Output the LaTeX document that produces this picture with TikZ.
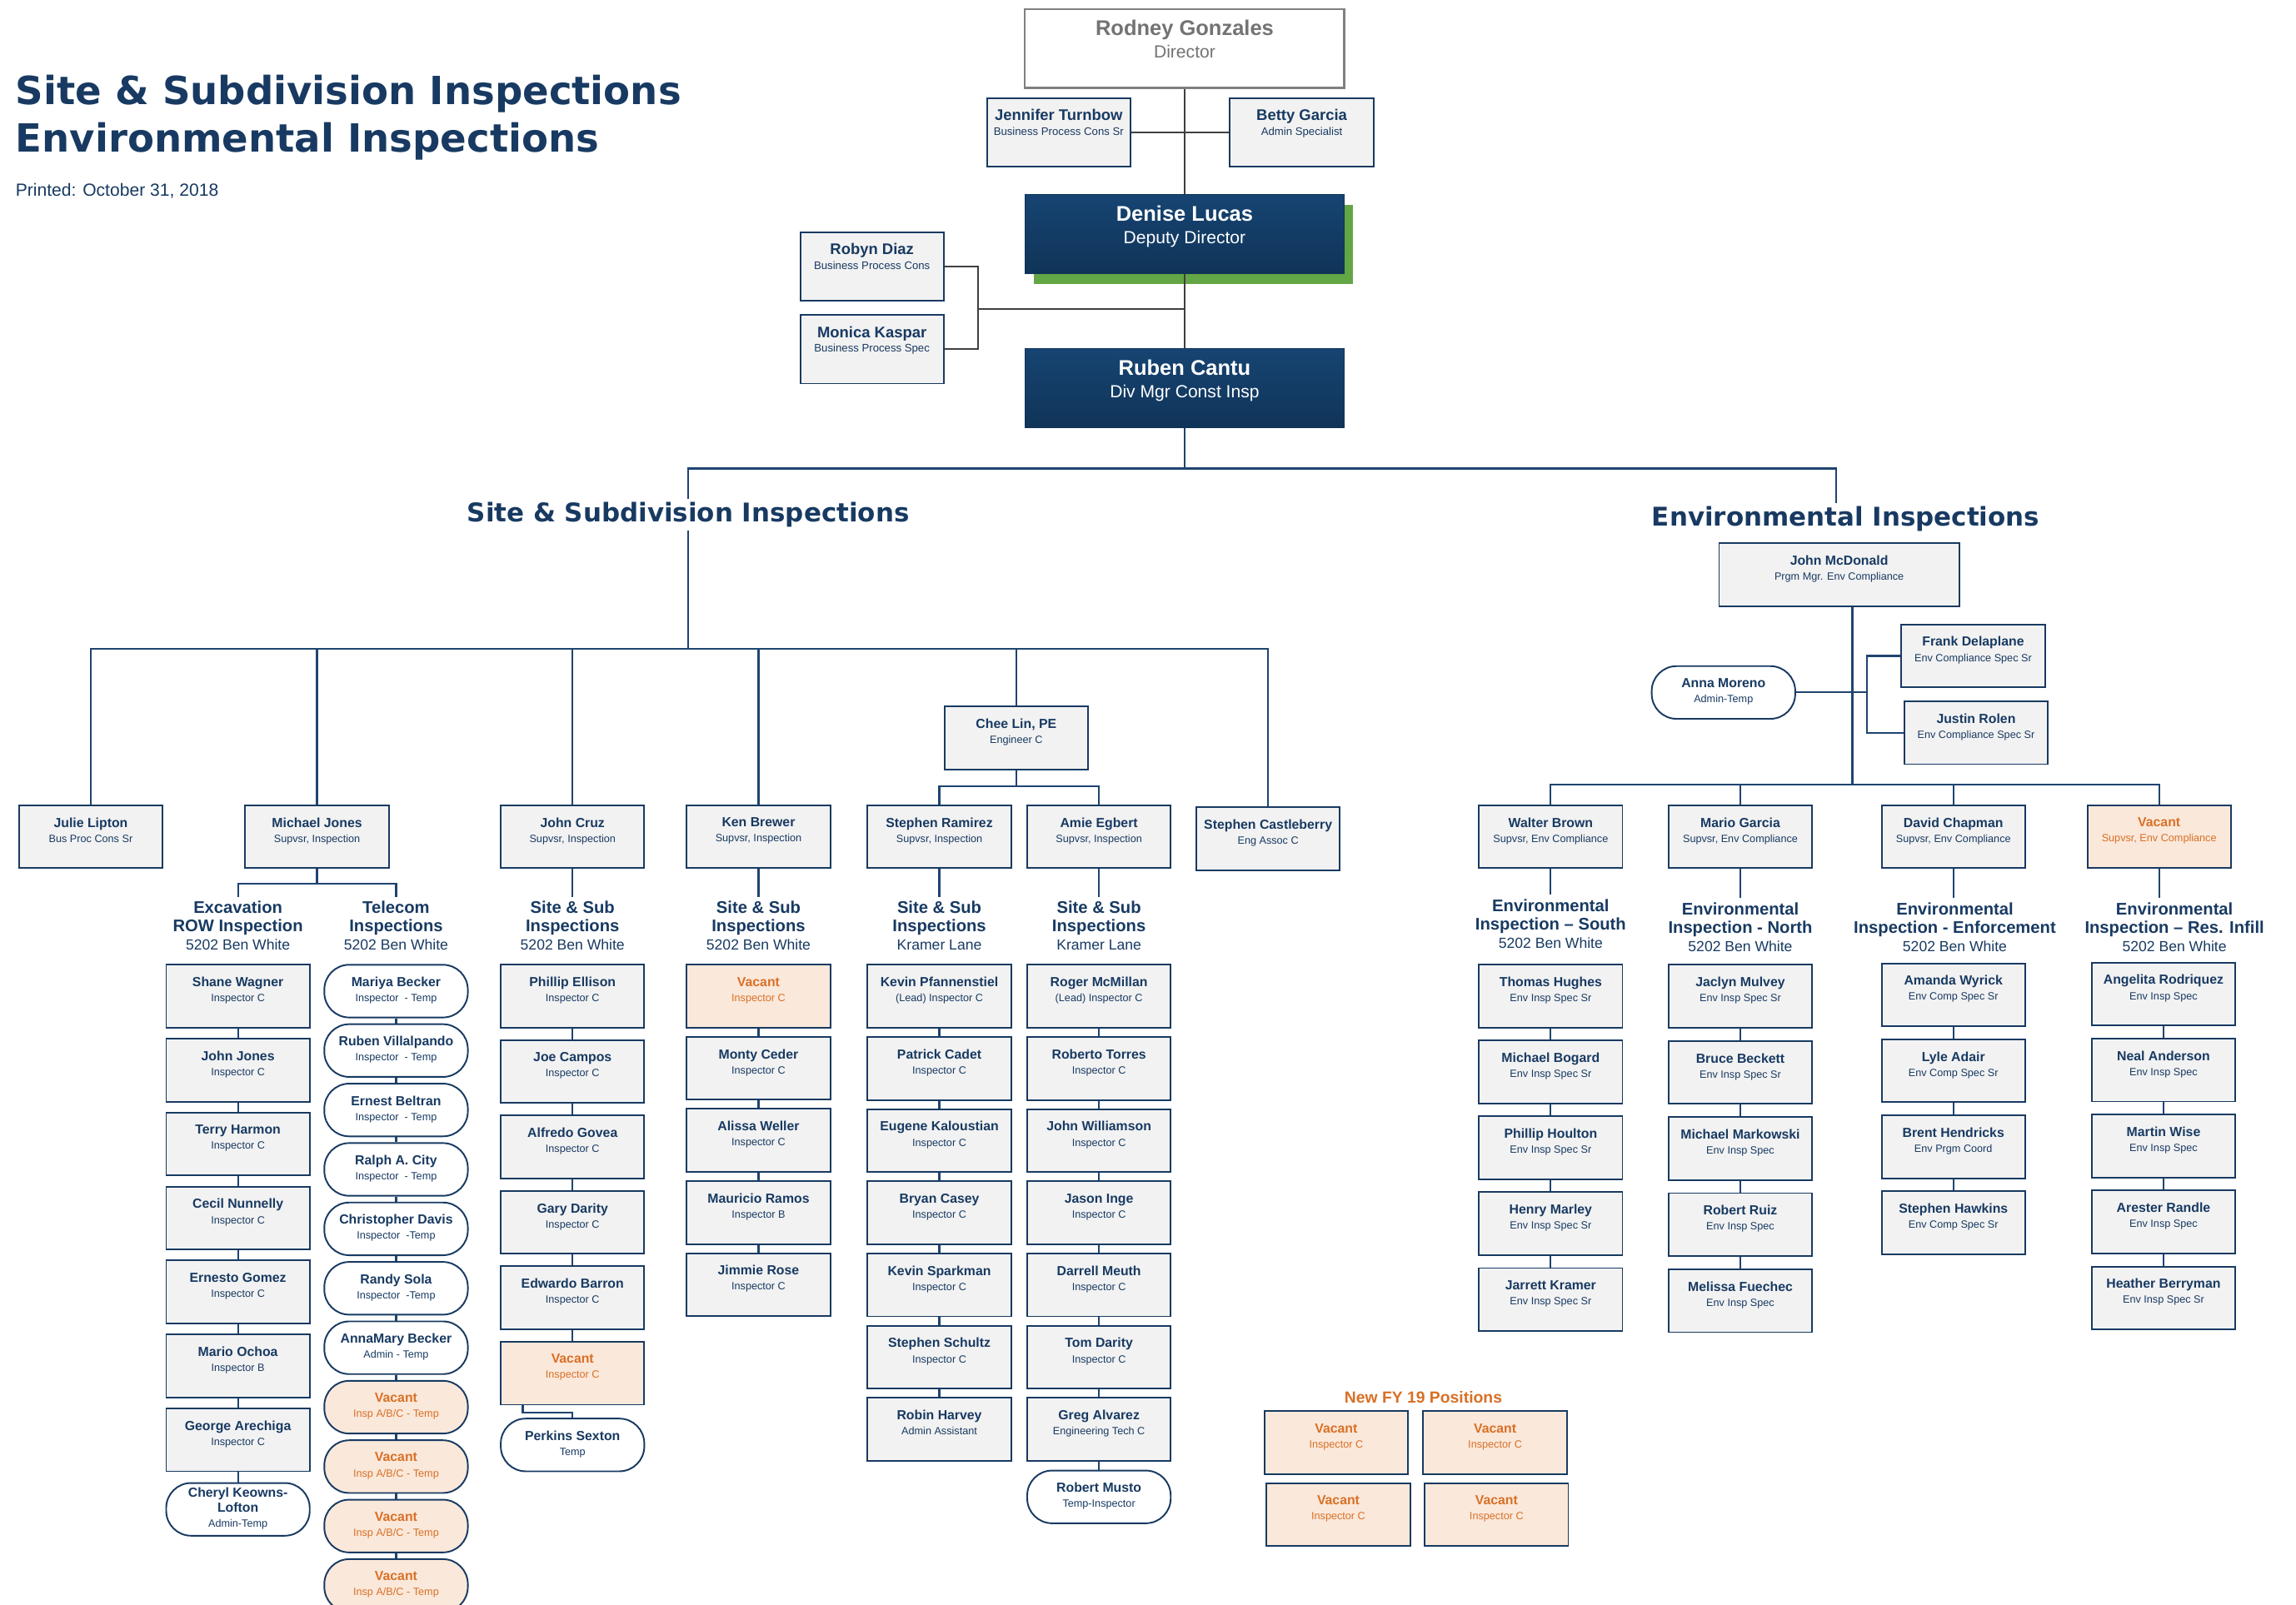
\documentclass[tikz,border=0pt]{standalone}
\usepackage{fontspec}
\setmainfont{Liberation Sans}
\newfontfamily\heavyfont{DejaVu Sans}
\usetikzlibrary{positioning}

\definecolor{navy}{RGB}{24,58,98}
\definecolor{linenavy}{RGB}{31,68,112}
\definecolor{boxgray}{RGB}{242,242,242}
\definecolor{vacfill}{RGB}{250,232,218}
\definecolor{vacorange}{RGB}{217,112,38}
\definecolor{dirgray}{RGB}{128,128,128}
\definecolor{depnavyA}{RGB}{22,68,114}
\definecolor{depnavyB}{RGB}{16,52,88}
\definecolor{shgreen}{RGB}{99,166,69}
\definecolor{topline}{RGB}{64,64,64}

% name / title fonts, one pair per box style
\newcommand{\nmpbox}{\fontsize{9}{10.3}\selectfont\bfseries}
\newcommand{\ttpbox}{\fontsize{7.2}{10.3}\selectfont}
\let\nmvacbox\nmpbox \let\ttvacbox\ttpbox
\let\nmtmpbox\nmpbox \let\tttmpbox\ttpbox
\let\nmtmpvac\nmpbox \let\tttmpvac\ttpbox
\let\nmwidebox\nmpbox \let\ttwidebox\ttpbox
\newcommand{\nmaidebox}{\fontsize{10.5}{10}\selectfont\bfseries}
\newcommand{\ttaidebox}{\fontsize{7.5}{10}\selectfont}
\newcommand{\nmdirbox}{\fontsize{14.5}{15.5}\selectfont\bfseries}
\newcommand{\ttdirbox}{\fontsize{12}{15.5}\selectfont}
\let\nmdepbox\nmdirbox \let\ttdepbox\ttdirbox
\newcommand{\addr}{\fontsize{10}{12.5}\selectfont\mdseries}

% box + text for one person
\newcommand{\staff}[5][pbox]{%
  \node[#1] (#2) at #3 {};
  \node[#1 txt] (#2-t) at (#2.north) {\csname nm#1\endcsname #4\\\csname tt#1\endcsname #5};
}

\tikzset{
  link/.style={draw=linenavy, line width=1.2pt},
  toplink/.style={draw=topline, line width=0.9pt},
  pbox/.style={draw=navy, line width=1.1pt, fill=boxgray, minimum width=98pt, minimum height=43pt, inner sep=0pt},
  pbox txt/.style={anchor=north, yshift=-8.8pt, align=center, inner sep=0pt, text=navy, font=\ttpbox},
  widebox/.style={pbox, minimum width=164pt},
  widebox txt/.style={pbox txt},
  vacbox/.style={pbox, fill=vacfill},
  vacbox txt/.style={pbox txt, text=vacorange},
  tmpbox/.style={pbox, fill=white, rounded corners=17pt, minimum height=36pt},
  tmpbox txt/.style={anchor=center, yshift=-18pt, align=center, inner sep=0pt, text=navy, font=\ttpbox},
  tmpvac/.style={tmpbox, fill=vacfill},
  tmpvac txt/.style={tmpbox txt, text=vacorange},
  aidebox/.style={pbox, minimum height=47pt},
  aidebox txt/.style={anchor=north, yshift=-8.2pt, align=center, inner sep=0pt, text=navy, font=\ttaidebox},
  dirbox/.style={draw=dirgray, line width=1.2pt, fill=white, minimum width=218pt, minimum height=54pt, inner sep=0pt},
  dirbox txt/.style={anchor=north, yshift=-7.8pt, align=center, inner sep=0pt, text=dirgray!90!black, font=\ttdirbox},
  depbox/.style={draw=depnavyB, line width=0.8pt, top color=depnavyA, bottom color=depnavyB, minimum width=218pt, minimum height=54pt, inner sep=0pt},
  depbox txt/.style={dirbox txt, text=white},
  colhd/.style={anchor=north, align=center, inner xsep=0pt, inner ysep=3pt, text=navy, font=\fontsize{11.5}{12.5}\selectfont\bfseries},
  sechd/.style={text=navy, inner sep=2pt, font=\heavyfont\bfseries\fontsize{17.6}{20}\selectfont},
  bigtitle/.style={anchor=base west, inner sep=0pt, text=navy, font=\heavyfont\bfseries\fontsize{26.5}{30}\selectfont},
}

\begin{document}
\begin{tikzpicture}[x=1pt, y=-1pt]
  \useasboundingbox (0,0) rectangle (1568,1096);
  \fill[white] (0,0) rectangle (1568,1096);

  % Titles
  \node[bigtitle] (title1) at (10.5,71.5) {Site \& Subdivision Inspections};
  \node[bigtitle] (title2) at (10.5,103.7) {Environmental Inspections};
  \node[anchor=base west, inner sep=0pt, text=navy, font=\fontsize{12}{14}\selectfont] (printed) at (10.5,134) {Printed: October 31, 2018};

  % Director's office
  \staff[dirbox]{rodney}{(809,33)}{Rodney Gonzales}{Director}
  \staff[aidebox]{jturnbow}{(723,90.5)}{Jennifer Turnbow}{Business Process Cons Sr}
  \staff[aidebox]{bgarcia}{(889,90.5)}{Betty Garcia}{Admin Specialist}
  \node[fill=shgreen, minimum width=218pt, minimum height=54pt, inner sep=0pt] (deniseshade) at (815,167) {};
  \staff[depbox]{dlucas}{(809,160)}{Denise Lucas}{Deputy Director}
  \staff[aidebox]{rdiaz}{(595.5,182)}{Robyn Diaz}{Business Process Cons}
  \staff[aidebox]{mkaspar}{(595.5,238.5)}{Monica Kaspar}{Business Process Spec}
  \staff[depbox]{rcantu}{(809,265)}{Ruben Cantu}{Div Mgr Const Insp}

  \draw[toplink] (rodney) -- (dlucas);
  \draw[toplink, line width=1.4pt] (jturnbow) -- (bgarcia);
  \draw[toplink] (dlucas) -- (rcantu);
  \coordinate (rdbr) at (668,211);
  \draw[toplink, line width=1.2pt] (rdiaz.east) -| (rdbr) |- (mkaspar.east);
  \draw[toplink, line width=1.2pt] (rdbr) -- (rdbr -| rcantu.north);

  % Section headings
  \node[sechd] (sitehd) at (470,351.5) {Site \& Subdivision Inspections};
  \node[sechd] (envhd) at (1260.5,354.5) {Environmental Inspections};
  \coordinate (topbus) at (809,320);
  \draw[link] (rcantu) -- (topbus);
  \draw[link] (topbus) -| (sitehd.north);
  \draw[link] (topbus) -| ([xshift=-6.5pt]envhd.north);

  % Site & Subdivision: supervisors
  \staff{jlipton}{(62,571.5)}{Julie Lipton}{Bus Proc Cons Sr}
  \staff{mjones}{(216.5,571.5)}{Michael Jones}{Supvsr, Inspection}
  \staff{jcruz}{(391,571.5)}{John Cruz}{Supvsr, Inspection}
  \staff{kbrewer}{(518,571.5)}{Ken Brewer}{Supvsr, Inspection}
  \staff{clin}{(694,504)}{Chee Lin, PE}{Engineer C}
  \staff{sramirez}{(641.5,571.5)}{Stephen Ramirez}{Supvsr, Inspection}
  \staff{aegbert}{(750.5,571.5)}{Amie Egbert}{Supvsr, Inspection}
  \staff{scastle}{(866,573)}{Stephen Castleberry}{Eng Assoc C}

  \coordinate (sbus) at (470,443);
  \draw[link] (sitehd) -- (sbus);
  \foreach \n in {jlipton, mjones, jcruz, kbrewer, clin, scastle}
    \draw[link] (sbus) -| (\n.north);
  \draw[link] (clin.south) -- ++(0,11) coordinate (clbus);
  \draw[link] (clbus) -| (sramirez.north);
  \draw[link] (clbus) -| (aegbert.north);

  % unit headings
  \node[colhd] (exchd) at (162.5,612.5) {Excavation\\ROW Inspection\\\addr 5202 Ben White};
  \node[colhd] (telhd) at (270.5,612.5) {Telecom\\Inspections\\\addr 5202 Ben White};
  \node[colhd] (cruzhd) at (391,612.5) {Site \& Sub\\Inspections\\\addr 5202 Ben White};
  \node[colhd] (brwhd) at (518,612.5) {Site \& Sub\\Inspections\\\addr 5202 Ben White};
  \node[colhd] (ramhd) at (641.5,612.5) {Site \& Sub\\Inspections\\\addr Kramer Lane};
  \node[colhd] (egbhd) at (750.5,612.5) {Site \& Sub\\Inspections\\\addr Kramer Lane};

  \draw[link] (mjones.south) -- ++(0,10) coordinate (mjbus);
  \draw[link] (mjbus) -| (exchd.north);
  \draw[link] (mjbus) -| (telhd.north);
  \draw[link] (jcruz.south) -- (cruzhd.north);
  \draw[link] (kbrewer.south) -- (brwhd.north);
  \draw[link] (sramirez.south) -- (ramhd.north);
  \draw[link] (aegbert.south) -- (egbhd.north);

  % Excavation ROW
  \foreach \pname/\ptitle [count=\i] in {Shane Wagner/Inspector C, John Jones/Inspector C,
      Terry Harmon/Inspector C, Cecil Nunnelly/Inspector C, Ernesto Gomez/Inspector C,
      Mario Ochoa/Inspector B, George Arechiga/Inspector C}
    {\staff{exc\i}{(162.5,{680.5+50.5*(\i-1)})}{\pname}{\ptitle}}
  \staff[tmpbox]{exc8}{(162.5,1031)}{Cheryl Keowns-\\\nmtmpbox Lofton}{Admin-Temp}
  \foreach \i [evaluate=\i as \j using int(\i+1)] in {1,...,7}
    \draw[link] (exc\i) -- (exc\j);

  % Telecom
  \foreach \pname/\ptitle [count=\i] in {Mariya Becker/Inspector~~- Temp, Ruben Villalpando/Inspector~~- Temp,
      Ernest Beltran/Inspector~~- Temp, Ralph A. City/Inspector~~- Temp, Christopher Davis/Inspector~~-Temp,
      Randy Sola/Inspector~~-Temp, AnnaMary Becker/Admin - Temp}
    {\staff[tmpbox]{tel\i}{(270.5,{677+40.6*(\i-1)})}{\pname}{\ptitle}}
  \foreach \i in {8,...,11}
    {\staff[tmpvac]{tel\i}{(270.5,{677+40.6*(\i-1)})}{Vacant}{Insp A/B/C - Temp}}
  \foreach \i [evaluate=\i as \j using int(\i+1)] in {1,...,10}
    \draw[link] (tel\i) -- (tel\j);

  % John Cruz unit
  \foreach \pname [count=\i] in {Phillip Ellison, Joe Campos, Alfredo Govea, Gary Darity, Edwardo Barron}
    {\staff{cruz\i}{(391,{680.5+51.5*(\i-1)})}{\pname}{Inspector C}}
  \staff[vacbox]{cruz6}{(391,938)}{Vacant}{Inspector C}
  \staff[tmpbox]{cruz7}{(391,987)}{Perkins Sexton}{Temp}
  \foreach \i [evaluate=\i as \j using int(\i+1)] in {1,...,5}
    \draw[link] (cruz\i) -- (cruz\j);
  \draw[link] ([xshift=-34pt]cruz6.south) -- ++(0,5) -| (cruz7.north);

  % Ken Brewer unit
  \staff[vacbox]{brw1}{(518,680.5)}{Vacant}{Inspector C}
  \foreach \pname/\ptitle [count=\i from 2] in {Monty Ceder/Inspector C, Alissa Weller/Inspector C,
      Mauricio Ramos/Inspector B, Jimmie Rose/Inspector C}
    {\staff{brw\i}{(518,{680.5+49.25*(\i-1)})}{\pname}{\ptitle}}
  \foreach \i [evaluate=\i as \j using int(\i+1)] in {1,...,4}
    \draw[link] (brw\i) -- (brw\j);

  % Stephen Ramirez unit
  \foreach \pname/\ptitle [count=\i] in {Kevin Pfannenstiel/(Lead) Inspector C, Patrick Cadet/Inspector C,
      Eugene Kaloustian/Inspector C, Bryan Casey/Inspector C, Kevin Sparkman/Inspector C,
      Stephen Schultz/Inspector C, Robin Harvey/Admin Assistant}
    {\staff{ram\i}{(641.5,{680.5+49.3*(\i-1)})}{\pname}{\ptitle}}
  \foreach \i [evaluate=\i as \j using int(\i+1)] in {1,...,6}
    \draw[link] (ram\i) -- (ram\j);

  % Amie Egbert unit
  \foreach \pname/\ptitle [count=\i] in {Roger McMillan/(Lead) Inspector C, Roberto Torres/Inspector C,
      John Williamson/Inspector C, Jason Inge/Inspector C, Darrell Meuth/Inspector C,
      Tom Darity/Inspector C, Greg Alvarez/Engineering Tech C}
    {\staff{egb\i}{(750.5,{680.5+49.3*(\i-1)})}{\pname}{\ptitle}}
  \staff[tmpbox]{egb8}{(750.5,1022.5)}{Robert Musto}{Temp-Inspector}
  \foreach \i [evaluate=\i as \j using int(\i+1)] in {1,...,7}
    \draw[link] (egb\i) -- (egb\j);

  % New FY 19 positions
  \node[font=\fontsize{11}{12}\selectfont\bfseries, text=vacorange] (fyhd) at (972,954.5) {New FY 19 Positions};
  \staff[vacbox]{fy1}{(912.5,985.5)}{Vacant}{Inspector C}
  \staff[vacbox]{fy2}{(1021,985.5)}{Vacant}{Inspector C}
  \staff[vacbox]{fy3}{(914,1034.5)}{Vacant}{Inspector C}
  \staff[vacbox]{fy4}{(1022,1034.5)}{Vacant}{Inspector C}

  % Environmental Inspections
  \staff[widebox]{jmcdonald}{(1256,392.5)}{John McDonald}{Prgm Mgr. Env Compliance}
  \staff{fdelaplane}{(1347.5,448)}{Frank Delaplane}{Env Compliance Spec Sr}
  \staff{jrolen}{(1349.5,500.5)}{Justin Rolen}{Env Compliance Spec Sr}
  \staff[tmpbox]{amoreno}{(1177,473)}{Anna Moreno}{Admin-Temp}
  \coordinate (ebus) at (1265,536);
  \coordinate (ambr) at (1275,473);
  \draw[link] (jmcdonald.south -| ebus) -- (ebus);
  \draw[link] (amoreno) -- (ambr);
  \draw[link] (fdelaplane.west) -| (ambr) |- (jrolen.west);

  \staff{wbrown}{(1059,571.5)}{Walter Brown}{Supvsr, Env Compliance}
  \staff{mgarcia}{(1188.5,571.5)}{Mario Garcia}{Supvsr, Env Compliance}
  \staff{dchapman}{(1334,571.5)}{David Chapman}{Supvsr, Env Compliance}
  \staff[vacbox]{envvac}{(1474.5,571.5)}{Vacant}{Supvsr, Env Compliance}
  \foreach \n in {wbrown, mgarcia, dchapman, envvac}
    \draw[link] (ebus) -| (\n.north);

  \node[colhd] (southhd) at (1059,611) {Environmental\\Inspection -- South\\\addr 5202 Ben White};
  \node[colhd] (northhd) at (1188.5,613.5) {Environmental\\Inspection - North\\\addr 5202 Ben White};
  \node[colhd] (enfhd) at (1335,613.5) {Environmental\\Inspection - Enforcement\\\addr 5202 Ben White};
  \node[colhd] (infillhd) at (1485,613.5) {Environmental\\Inspection -- Res. Infill\\\addr 5202 Ben White};
  \draw[link] (wbrown.south) -- (wbrown.south |- southhd.north);
  \draw[link] (mgarcia.south) -- (mgarcia.south |- northhd.north);
  \draw[link] (dchapman.south) -- (dchapman.south |- enfhd.north);
  \draw[link] (envvac.south) -- (envvac.south |- infillhd.north);

  \foreach \pname [count=\i] in {Thomas Hughes, Michael Bogard, Phillip Houlton, Henry Marley, Jarrett Kramer}
    {\staff{ea\i}{(1059,{680.5+51.8*(\i-1)})}{\pname}{Env Insp Spec Sr}}
  \foreach \pname/\ptitle [count=\i] in {Jaclyn Mulvey/Env Insp Spec Sr, Bruce Beckett/Env Insp Spec Sr,
      Michael Markowski/Env Insp Spec, Robert Ruiz/Env Insp Spec, Melissa Fuechec/Env Insp Spec}
    {\staff{eb\i}{(1188.5,{680.5+52*(\i-1)})}{\pname}{\ptitle}}
  \foreach \pname/\ptitle [count=\i] in {Amanda Wyrick/Env Comp Spec Sr, Lyle Adair/Env Comp Spec Sr,
      Brent Hendricks/Env Prgm Coord, Stephen Hawkins/Env Comp Spec Sr}
    {\staff{ec\i}{(1334,{679.5+51.9*(\i-1)})}{\pname}{\ptitle}}
  \foreach \pname/\ptitle [count=\i] in {Angelita Rodriquez/Env Insp Spec, Neal Anderson/Env Insp Spec,
      Martin Wise/Env Insp Spec, Arester Randle/Env Insp Spec, Heather Berryman/Env Insp Spec Sr}
    {\staff{ed\i}{(1477.5,{679+51.9*(\i-1)})}{\pname}{\ptitle}}
  \foreach \i [evaluate=\i as \j using int(\i+1)] in {1,...,4}
    {\draw[link] (ea\i) -- (ea\j);
     \draw[link] (eb\i) -- (eb\j);
     \draw[link] (ed\i) -- (ed\j);}
  \foreach \i [evaluate=\i as \j using int(\i+1)] in {1,...,3}
    \draw[link] (ec\i) -- (ec\j);
\end{tikzpicture}
\end{document}
